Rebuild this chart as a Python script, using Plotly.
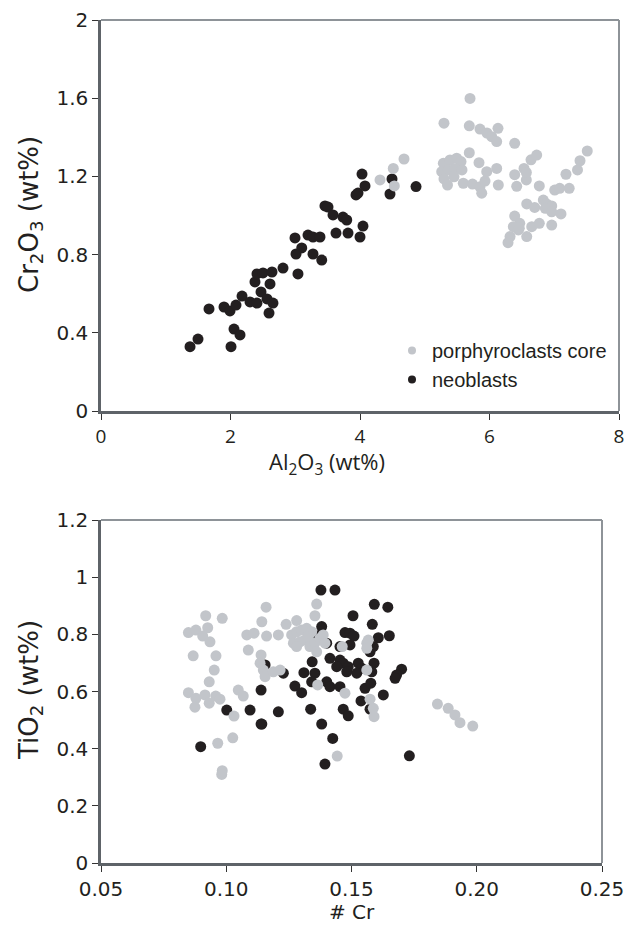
import plotly.graph_objects as go

# --- Al2O3 vs Cr2O3 (wt%) ---
neo_al2o3 = [1.375, 1.498, 2.008, 2.054, 2.147, 1.668, 1.900, 1.992, 2.085, 2.178,
             2.301, 2.409, 2.471, 2.564, 2.656, 2.595, 2.378, 2.409, 2.502, 2.641,
             2.610, 2.811, 3.042, 2.996, 3.100, 3.012, 3.197, 3.274, 3.382, 3.274,
             3.409, 3.459, 3.506, 3.583, 3.629, 3.737, 3.795, 3.815, 4.000, 4.046,
             3.938, 3.969, 4.077, 4.031, 4.494, 4.463, 4.865]
neo_cr2o3 = [0.329, 0.368, 0.329, 0.419, 0.389, 0.522, 0.532, 0.512, 0.542, 0.588,
             0.558, 0.552, 0.609, 0.573, 0.552, 0.501, 0.660, 0.701, 0.706, 0.711,
             0.650, 0.731, 0.701, 0.885, 0.834, 0.803, 0.900, 0.890, 0.890, 0.803,
             0.772, 1.049, 1.043, 1.003, 0.910, 0.992, 0.977, 0.910, 0.890, 0.946,
             1.105, 1.115, 1.151, 1.212, 1.187, 1.110, 1.148]

por_al2o3 = [4.309, 4.514, 4.530, 4.680, 5.297, 5.699, 5.688, 5.853, 5.961, 6.034,
             6.111, 6.131, 6.389, 5.688, 5.287, 5.390, 5.493, 5.560, 5.262, 5.364,
             5.467, 5.575, 5.297, 5.452, 5.351, 5.595, 5.838, 5.737, 5.853, 5.931,
             5.957, 5.880, 6.111, 6.136, 6.389, 6.533, 6.569, 6.641, 6.729, 6.420,
             6.569, 6.769, 7.007, 7.084, 7.231, 7.181, 7.359, 7.398, 7.510, 6.575,
             6.698, 6.831, 6.883, 6.961, 6.862, 6.961, 7.104, 6.389, 6.467, 6.368,
             6.445, 6.575, 6.652, 6.769, 6.961, 6.317, 6.286, 6.460]
por_cr2o3 = [1.182, 1.241, 1.151, 1.289, 1.472, 1.599, 1.459, 1.442, 1.422, 1.403,
             1.378, 1.446, 1.369, 1.321, 1.267, 1.284, 1.293, 1.276, 1.224, 1.233,
             1.241, 1.233, 1.187, 1.198, 1.156, 1.165, 1.270, 1.161, 1.147, 1.176,
             1.224, 1.114, 1.241, 1.156, 1.209, 1.241, 1.182, 1.285, 1.309, 1.149,
             1.220, 1.151, 1.130, 1.139, 1.139, 1.211, 1.233, 1.280, 1.330, 1.059,
             1.041, 1.079, 1.059, 1.049, 1.037, 1.019, 1.008, 0.997, 0.960, 0.943,
             0.926, 0.892, 0.943, 0.960, 0.951, 0.892, 0.861, 0.935]

# --- #Cr vs TiO2 (wt%) ---
neo_cr_num = [0.0898, 0.1002, 0.1095, 0.1139, 0.1139, 0.1378, 0.1434, 0.1591, 0.1645, 0.1506,
              0.1583, 0.1381, 0.1474, 0.1494, 0.1510, 0.1494, 0.1607, 0.1651, 0.1367, 0.1401,
              0.1454, 0.1574, 0.1587, 0.1343, 0.1414, 0.1454, 0.1467, 0.1487, 0.1441, 0.1481,
              0.1527, 0.1541, 0.1521, 0.1590, 0.1581, 0.1700, 0.1680, 0.1674, 0.1155, 0.1228,
              0.1310, 0.1354, 0.1341, 0.1401, 0.1414, 0.1454, 0.1554, 0.1577, 0.1274, 0.1301,
              0.1627, 0.1538, 0.1574, 0.1208, 0.1337, 0.1467, 0.1487, 0.1142, 0.1381, 0.1425,
              0.1394, 0.1731]
neo_tio2 = [0.407, 0.535, 0.535, 0.605, 0.486, 0.955, 0.955, 0.905, 0.895, 0.865,
            0.835, 0.827, 0.806, 0.804, 0.794, 0.763, 0.788, 0.795, 0.795, 0.769,
            0.757, 0.739, 0.757, 0.704, 0.716, 0.710, 0.699, 0.687, 0.687, 0.669,
            0.699, 0.681, 0.664, 0.699, 0.669, 0.678, 0.658, 0.646, 0.693, 0.664,
            0.666, 0.664, 0.634, 0.634, 0.617, 0.617, 0.611, 0.629, 0.619, 0.596,
            0.588, 0.567, 0.538, 0.529, 0.538, 0.538, 0.515, 0.486, 0.486, 0.436,
            0.346, 0.375]

por_cr_num = [0.0849, 0.0879, 0.0906, 0.0926, 0.0918, 0.0984, 0.0935, 0.0868, 0.0959, 0.0952,
              0.0932, 0.0849, 0.0879, 0.0915, 0.0875, 0.0932, 0.0958, 0.0975, 0.1048, 0.1068,
              0.1031, 0.0966, 0.1026, 0.0984, 0.0982, 0.1082, 0.1111, 0.1159, 0.1142, 0.1161,
              0.1088, 0.1139, 0.1135, 0.1148, 0.1155, 0.1208, 0.1239, 0.1281, 0.1188, 0.1215,
              0.1361, 0.1354, 0.1261, 0.1281, 0.1301, 0.1321, 0.1341, 0.1268, 0.1294, 0.1314,
              0.1334, 0.1354, 0.1374, 0.1387, 0.1394, 0.1361, 0.1281, 0.1328, 0.1365, 0.1463,
              0.1474, 0.1561, 0.1567, 0.1561, 0.1561, 0.1574, 0.1587, 0.1590, 0.1443, 0.1843,
              0.1886, 0.1913, 0.1933, 0.1984]
por_tio2 = [0.806, 0.815, 0.794, 0.823, 0.865, 0.856, 0.774, 0.725, 0.725, 0.675,
            0.634, 0.596, 0.576, 0.588, 0.545, 0.559, 0.584, 0.573, 0.605, 0.584,
            0.514, 0.419, 0.438, 0.323, 0.310, 0.798, 0.804, 0.895, 0.844, 0.794,
            0.745, 0.728, 0.699, 0.675, 0.652, 0.798, 0.835, 0.848, 0.669, 0.675,
            0.906, 0.865, 0.798, 0.809, 0.815, 0.821, 0.809, 0.769, 0.774, 0.780,
            0.757, 0.769, 0.786, 0.798, 0.769, 0.739, 0.757, 0.792, 0.623, 0.757,
            0.594, 0.769, 0.780, 0.751, 0.675, 0.573, 0.541, 0.512, 0.374, 0.556,
            0.541, 0.518, 0.491, 0.479]

top_y_ticks = [0, 0.4, 0.8, 1.2, 1.6, 2]
top_y_labels = ["0", "0.4", "0.8", "1.2", "1.6", "2"]
top_x_ticks = [0, 2, 4, 6, 8]
bot_x_ticks = [0.05, 0.10, 0.15, 0.20, 0.25]
bot_x_labels = ["0.05", "0.10", "0.15", "0.20", "0.25"]
bot_y_ticks = [0, 0.2, 0.4, 0.6, 0.8, 1.0, 1.2]
bot_y_labels = ["0", "0.2", "0.4", "0.6", "0.8", "1", "1.2"]

series_names = ["porphyroclasts core", "neoblasts"]

GREY = "#c2c5ca"
BLACK = "#231f20"
AXIS = "#5e6368"
FRAME = "#8e9398"
TXT = "#231f20"
W, H = 627, 933

# plot-area pixel boxes
top_box = dict(l=101, r=619, t=20, b=411)
bot_box = dict(l=101, r=602, t=520, b=863)


def xdom(b):
    return [b["l"] / W, b["r"] / W]


def ydom(b):
    return [1 - b["b"] / H, 1 - b["t"] / H]


fig = go.Figure()
msize = 11

# neoblasts drawn first, porphyroclasts on top
fig.add_trace(go.Scatter(x=neo_al2o3, y=neo_cr2o3, mode="markers", xaxis="x", yaxis="y",
                         marker=dict(color=BLACK, size=msize), showlegend=False))
fig.add_trace(go.Scatter(x=por_al2o3, y=por_cr2o3, mode="markers", xaxis="x", yaxis="y",
                         marker=dict(color=GREY, size=msize), showlegend=False))
fig.add_trace(go.Scatter(x=neo_cr_num, y=neo_tio2, mode="markers", xaxis="x2", yaxis="y2",
                         marker=dict(color=BLACK, size=msize), showlegend=False))
fig.add_trace(go.Scatter(x=por_cr_num, y=por_tio2, mode="markers", xaxis="x2", yaxis="y2",
                         marker=dict(color=GREY, size=msize), showlegend=False))

# legend entries with smaller key symbols
for name, col in zip(series_names, [GREY, BLACK]):
    fig.add_trace(go.Scatter(x=[None], y=[None], mode="markers", name=name,
                             legendgroup=name, xaxis="x", yaxis="y",
                             marker=dict(color=col, size=8)))

tick_font = dict(family="DejaVu Sans", size=20, color=TXT)
axis_common = dict(showgrid=False, zeroline=False, showline=True, linecolor=AXIS,
                   linewidth=2.5, ticks="outside", ticklen=6, tickwidth=1,
                   tickcolor="#333333", automargin=False, fixedrange=True)

fig.update_layout(
    width=W, height=H,
    margin=dict(l=0, r=0, t=0, b=0),
    paper_bgcolor="white", plot_bgcolor="white",
    xaxis=dict(domain=xdom(top_box), range=[0, 8], tickvals=top_x_ticks,
               tickfont=dict(family="Open Sans", size=19, color=TXT),
               anchor="y", **axis_common),
    yaxis=dict(domain=ydom(top_box), range=[0, 2], tickvals=top_y_ticks,
               ticktext=top_y_labels, tickfont=tick_font, anchor="x", **axis_common),
    xaxis2=dict(domain=xdom(bot_box), range=[0.05, 0.25], tickvals=bot_x_ticks,
                ticktext=bot_x_labels, tickfont=dict(family="DejaVu Sans", size=20, color=TXT),
                anchor="y2", **axis_common),
    yaxis2=dict(domain=ydom(bot_box), range=[0, 1.2], tickvals=bot_y_ticks,
                ticktext=bot_y_labels, tickfont=tick_font, anchor="x2", **axis_common),
    legend=dict(x=392 / W, y=1 - 331 / H, xanchor="left", yanchor="top",
                bgcolor="rgba(0,0,0,0)", traceorder="grouped", tracegroupgap=0,
                font=dict(family="Liberation Sans", size=20, color=TXT),
                itemwidth=30),
    shapes=[
        # top and right frame lines of each panel
        dict(type="line", xref="x domain", yref="y domain", x0=0, x1=1, y0=1, y1=1,
             line=dict(color=FRAME, width=2)),
        dict(type="line", xref="x domain", yref="y domain", x0=1, x1=1, y0=0, y1=1,
             line=dict(color=FRAME, width=2)),
        dict(type="line", xref="x2 domain", yref="y2 domain", x0=0, x1=1, y0=1, y1=1,
             line=dict(color=FRAME, width=2)),
        dict(type="line", xref="x2 domain", yref="y2 domain", x0=1, x1=1, y0=0, y1=1,
             line=dict(color=FRAME, width=2)),
    ],
    annotations=[
        dict(text="Al<sub>2</sub>O<sub>3</sub> (wt%)", xref="paper", yref="paper",
             x=327 / W, y=1 - 463 / H, xanchor="center", yanchor="middle", showarrow=False,
             font=dict(family="Open Sans", size=22, color=TXT)),
        dict(text="Cr<sub>2</sub>O<sub>3</sub> (wt%)", xref="paper", yref="paper",
             x=30 / W, y=1 - 215 / H, xanchor="center", yanchor="middle", showarrow=False,
             textangle=-90, font=dict(family="DejaVu Sans", size=26, color=TXT)),
        dict(text="# Cr", xref="paper", yref="paper",
             x=352 / W, y=1 - 912 / H, xanchor="center", yanchor="middle", showarrow=False,
             font=dict(family="DejaVu Sans", size=20, color=TXT)),
        dict(text="TiO<sub>2</sub> (wt%)", xref="paper", yref="paper",
             x=30 / W, y=1 - 690 / H, xanchor="center", yanchor="middle", showarrow=False,
             textangle=-90, font=dict(family="DejaVu Sans", size=26, color=TXT)),
    ],
)

fig.write_html("out.html")
